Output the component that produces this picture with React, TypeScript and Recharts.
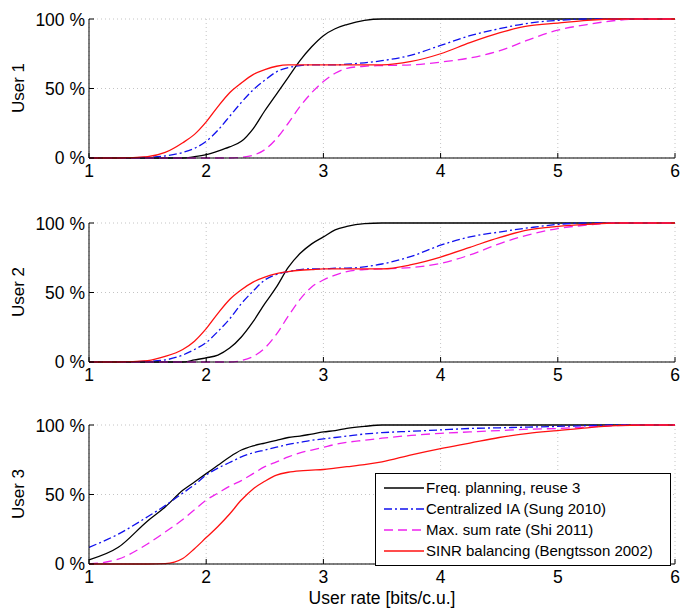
import { CartesianGrid, Line, LineChart, XAxis, YAxis } from 'recharts'

// user rate grid [bits/c.u.], shared by every curve
const rates = [1, 1.25, 1.5, 1.65, 1.8, 1.9, 2, 2.1, 2.2, 2.3, 2.4, 2.5, 2.6, 2.7, 2.8, 2.9, 3, 3.1, 3.2, 3.35, 3.5, 3.75, 4, 4.25, 4.5, 4.75, 5, 5.25, 5.5, 5.75, 6]

// CDF values in %, one array per user and method
const user1Freq = [0, 0, 0, 0, 0, 1, 2.5, 5, 8, 12, 21, 34, 46, 58, 70, 80, 88, 93, 96, 99, 100, 100, 100, 100, 100, 100, 100, 100, 100, 100, 100]
const user1Ia = [0, 0, 0.5, 1.5, 4, 7, 12, 20, 30, 40, 49, 56, 62, 65, 66.5, 67, 67, 67, 67.5, 68.5, 70, 74, 81, 88, 93, 97, 99, 100, 100, 100, 100]
const user1Msr = [0, 0, 0, 0, 0, 0, 0, 0, 0, 0.5, 2, 6, 14, 25, 37, 47, 55, 61, 64.5, 66, 66.5, 67, 69, 72, 77, 85, 92, 96, 99, 100, 100]
const user1Sinr = [0, 0, 1, 4, 11, 17, 26, 37, 47, 54, 60, 63.5, 66, 67, 67, 67, 67, 67, 67, 67, 67, 69.5, 75, 83, 90, 95, 97, 99, 100, 100, 100]

const user2Freq = [0, 0, 0, 0, 0, 1.5, 3, 5, 10, 18, 29, 42, 54, 68, 78, 85, 90, 95, 97.5, 99.5, 100, 100, 100, 100, 100, 100, 100, 100, 100, 100, 100]
const user2Ia = [0, 0, 0.5, 1.5, 5, 9, 14, 22, 31, 42, 51, 59, 63, 65, 66.5, 67, 67, 67.5, 67.5, 68.5, 70.5, 76, 84, 90, 93.5, 96.5, 99, 100, 100, 100, 100]
const user2Msr = [0, 0, 0, 0, 0, 0, 0, 0, 0, 1, 4, 10, 20, 33, 45, 54, 59, 62.5, 65, 66.5, 67, 68, 71, 77, 85, 91.5, 96, 98.5, 100, 100, 100]
const user2Sinr = [0, 0, 1, 4, 9, 15, 24, 35, 45, 52, 57.5, 61, 63.5, 65, 66, 66.5, 67, 67, 67, 67, 67, 70, 75.5, 82.5, 89.5, 95, 97.5, 99, 100, 100, 100]

const user3Freq = [3, 12, 31, 41, 53, 59, 65, 71, 77, 82, 85, 87, 89, 91, 92, 93.5, 95, 96, 97.5, 99, 100, 100, 100, 100, 100, 100, 100, 100, 100, 100, 100]
const user3Ia = [12, 21.5, 34, 42, 51, 57, 64, 69, 73, 77, 80, 82, 84, 86, 87.5, 89, 90, 91, 92, 93.5, 94.5, 95.5, 96.5, 97.5, 98, 98.5, 99, 99.5, 100, 100, 100]
const user3Msr = [0, 3.5, 14.5, 23, 32, 39, 46, 51, 56, 60, 65, 70, 73.5, 77, 80, 82, 84, 86, 87.5, 89, 90.5, 92.5, 94, 95, 96, 97, 97.5, 98.5, 99.5, 100, 100]
const user3Sinr = [0, 0, 0, 0.3, 4, 11, 19, 27, 36, 46, 54, 59.5, 64, 66, 67, 67.5, 68, 69, 70, 71.5, 73.5, 78.5, 83, 87, 91, 94, 96, 98, 99.5, 100, 100]

const xTicks = [1, 2, 3, 4, 5, 6]
const yTicks = [0, 50, 100]

const SERIES = [
  { key: 'freq', name: 'Freq. planning, reuse 3', color: '#000000', dash: undefined },
  { key: 'ia', name: 'Centralized IA (Sung 2010)', color: '#1010ee', dash: '8 3 2 3' },
  { key: 'msr', name: 'Max. sum rate (Shi 2011)', color: '#ee22ee', dash: '9 5' },
  { key: 'sinr', name: 'SINR balancing (Bengtsson 2002)', color: '#ff1010', dash: undefined },
]

const FONT = '"Liberation Sans", Arial, Helvetica, sans-serif'

function buildRows(freq: number[], ia: number[], msr: number[], sinr: number[]) {
  return rates.map((x, i) => ({ x, freq: freq[i], ia: ia[i], msr: msr[i], sinr: sinr[i] }))
}

const panels = [
  { label: 'User 1', top: 9, rows: buildRows(user1Freq, user1Ia, user1Msr, user1Sinr) },
  { label: 'User 2', top: 213, rows: buildRows(user2Freq, user2Ia, user2Msr, user2Sinr) },
  { label: 'User 3', top: 415, rows: buildRows(user3Freq, user3Ia, user3Msr, user3Sinr) },
]

type Row = ReturnType<typeof buildRows>[number]

function UserPanel({ label, top, rows }: { label: string; top: number; rows: Row[] }) {
  return (
    <div style={{ position: 'absolute', left: 0, top }}>
      <div
        style={{
          position: 'absolute',
          left: 19,
          top: 79,
          transform: 'translate(-50%, -50%) rotate(-90deg)',
          fontSize: 17,
          whiteSpace: 'nowrap',
        }}
      >
        {label}
      </div>
      <LineChart width={681} height={174} data={rows} margin={{ top: 10, right: 6, bottom: 0, left: 0 }}>
        <CartesianGrid xAxisId="b" yAxisId="l" stroke="#c4c4c4" strokeDasharray="1 3" />
        <XAxis
          xAxisId="b"
          dataKey="x"
          type="number"
          domain={[1, 6]}
          ticks={xTicks}
          height={25}
          stroke="#000"
          tick={{ fill: '#000', fontSize: 17.5 }}
          tickSize={-5}
          tickMargin={12}
        />
        <XAxis
          xAxisId="t"
          orientation="top"
          dataKey="x"
          type="number"
          domain={[1, 6]}
          ticks={xTicks}
          height={0}
          stroke="#000"
          tick={false}
          tickSize={-5}
        />
        <YAxis
          yAxisId="l"
          type="number"
          domain={[0, 100]}
          ticks={yTicks}
          width={89}
          stroke="#000"
          tick={{ fill: '#000', fontSize: 17.5 }}
          tickFormatter={(v) => `${v} %`}
          tickSize={-5}
          tickMargin={9}
        />
        <YAxis
          yAxisId="r"
          orientation="right"
          type="number"
          domain={[0, 100]}
          ticks={yTicks}
          width={0}
          stroke="#000"
          tick={false}
          tickSize={-5}
        />
        {SERIES.map((s) => (
          <Line
            key={s.key}
            xAxisId="b"
            yAxisId="l"
            dataKey={s.key}
            type="monotone"
            stroke={s.color}
            strokeWidth={1.3}
            strokeDasharray={s.dash}
            dot={false}
            isAnimationActive={false}
          />
        ))}
      </LineChart>
    </div>
  )
}

export default function App() {
  return (
    <div
      style={{
        position: 'absolute',
        left: 0,
        top: 0,
        width: 681,
        height: 608,
        background: '#fff',
        fontFamily: FONT,
        color: '#000',
      }}
    >
      {panels.map((p) => (
        <UserPanel key={p.label} label={p.label} top={p.top} rows={p.rows} />
      ))}
      <div
        style={{
          position: 'absolute',
          left: 382,
          top: 598,
          transform: 'translate(-50%, -50%)',
          fontSize: 17.5,
          whiteSpace: 'nowrap',
        }}
      >
        User rate [bits/c.u.]
      </div>
      <div
        style={{
          position: 'absolute',
          left: 375,
          top: 473,
          width: 294,
          height: 88,
          border: '1px solid #000',
          background: '#fff',
          paddingTop: 3,
          boxSizing: 'content-box',
        }}
      >
        {SERIES.map((s) => (
          <div key={s.key} style={{ display: 'flex', alignItems: 'center', height: 21, fontSize: 15 }}>
            <svg width={50} height={10} style={{ flex: 'none' }}>
              <line x1={8} y1={5} x2={48} y2={5} stroke={s.color} strokeWidth={1.3} strokeDasharray={s.dash} />
            </svg>
            <span style={{ whiteSpace: 'nowrap' }}>{s.name}</span>
          </div>
        ))}
      </div>
    </div>
  )
}
